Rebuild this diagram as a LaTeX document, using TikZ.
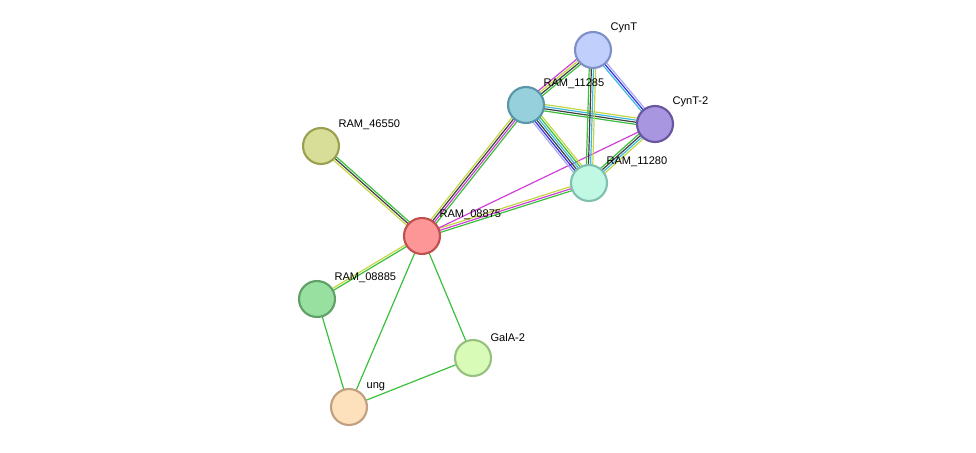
\documentclass[tikz,border=0pt]{standalone}
\usepackage{fontspec}
\setmainfont{Liberation Sans}
\usetikzlibrary{calc}
\definecolor{eg}{HTML}{3CBF3C}
\definecolor{ek}{HTML}{404040}
\definecolor{ey}{HTML}{C4D640}
\definecolor{em}{HTML}{D040D8}
\definecolor{ec}{HTML}{40B8E0}
\definecolor{eb}{HTML}{3030E8}
\definecolor{el}{HTML}{A8A8F0}
\newcommand\medge[4]{%
  \foreach \c [count=\i] in {#4}{%
    \pgfmathsetmacro\off{(\i-1-(#3-1)/2)*1.6}%
    \draw[\c, line width=0.9pt] ($(#1)!\off pt!90:(#2)$) -- ($(#2)!\off pt!-90:(#1)$);
  }}
\tikzset{prot/.style={circle, minimum size=27pt, line width=1.6pt, inner sep=0pt},
  lab/.style={font=\fontsize{8.3pt}{9pt}\selectfont, anchor=south west, inner sep=1pt}}
\begin{document}
\begin{tikzpicture}[x=0.75pt,y=-0.75pt]
\useasboundingbox (0,0) rectangle (976,453);
\coordinate (cynt) at (593,50);
\coordinate (r11285) at (526,105);
\coordinate (cynt2) at (655,124);
\coordinate (r11280) at (589,183);
\coordinate (r46550) at (321,146);
\coordinate (r08875) at (422,236);
\coordinate (r08885) at (317,299);
\coordinate (gala) at (473,358);
\coordinate (ung) at (349,407);
\medge{r08875}{r46550}{3}{eg,ek,ey}
\medge{r08875}{r08885}{2}{ey,eg}
\medge{r08875}{ung}{1}{eg}
\medge{r08875}{gala}{1}{eg}
\medge{r08885}{ung}{1}{eg}
\medge{ung}{gala}{1}{eg}
\medge{r08875}{r11285}{4}{eg,em,ek,ey}
\medge{r08875}{r11280}{3}{eg,em,ey}
\medge{r08875}{cynt2}{1}{em}
\medge{r11285}{cynt}{4}{eg,ek,ey,em}
\medge{r11285}{cynt2}{4}{eg,ek,ec,ey}
\medge{r11285}{r11280}{6}{el,eb,ek,ec,eg,ey}
\medge{cynt}{r11280}{4}{eg,ek,ec,ey}
\medge{cynt}{cynt2}{3}{ec,eb,el}
\medge{cynt2}{r11280}{4}{eg,ek,ec,ey}
\node[prot, fill={rgb,255:red,192;green,207;blue,252}, draw={rgb,255:red,127;green,144;blue,200}] (n1) at (cynt) {};
\node[prot, fill={rgb,255:red,149;green,208;blue,220}, draw={rgb,255:red,90;green,150;blue,168}] (n2) at (r11285) {};
\node[prot, fill={rgb,255:red,169;green,150;blue,224}, draw={rgb,255:red,106;green,85;blue,160}] (n3) at (cynt2) {};
\node[prot, fill={rgb,255:red,192;green,248;blue,228}, draw={rgb,255:red,128;green,192;blue,176}] (n4) at (r11280) {};
\node[prot, fill={rgb,255:red,216;green,222;blue,152}, draw={rgb,255:red,154;green,160;blue,80}] (n5) at (r46550) {};
\node[prot, fill={rgb,255:red,253;green,150;blue,150}, draw={rgb,255:red,192;green,80;blue,80}] (n6) at (r08875) {};
\node[prot, fill={rgb,255:red,152;green,224;blue,160}, draw={rgb,255:red,96;green,160;blue,104}] (n7) at (r08885) {};
\node[prot, fill={rgb,255:red,216;green,252;blue,184}, draw={rgb,255:red,152;green,192;blue,128}] (n8) at (gala) {};
\node[prot, fill={rgb,255:red,253;green,224;blue,188}, draw={rgb,255:red,192;green,160;blue,128}] (n9) at (ung) {};
\node[lab] at (609,34) {CynT};
\node[lab] at (542,90) {RAM\_11285};
\node[lab] at (671,108) {CynT-2};
\node[lab] at (605,168) {RAM\_11280};
\node[lab] at (337,131) {RAM\_46550};
\node[lab] at (438,221) {RAM\_08875};
\node[lab] at (333,284) {RAM\_08885};
\node[lab] at (489,343) {GalA-2};
\node[lab] at (365,392) {ung};
\end{tikzpicture}
\end{document}
